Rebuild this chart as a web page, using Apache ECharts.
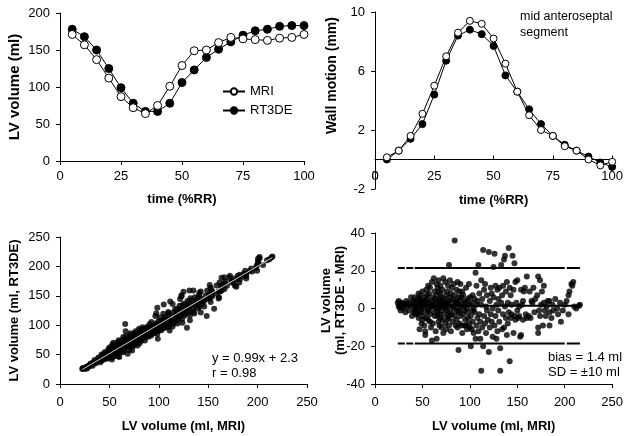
<!DOCTYPE html>
<html><head><meta charset="utf-8">
<script src="https://cdn.jsdelivr.net/npm/echarts@6/dist/echarts.min.js"></script>
<style>html,body{margin:0;padding:0;background:#fff}#c{width:626px;height:436px}</style>
</head><body><div id="c"></div>
<script>
// ---- data ----
const timeRR = [5,10,15,20,25,30,35,40,45,50,55,60,65,70,75,80,85,90,95,100];
const mriVolume   = [171,157,137,112,87,72,64,75,101,129,149,150,160,167,165,164,163,166,167,171];
const rt3deVolume = [178,168,150,125,99,78,67,67,78,106,123,140,151,161,170,176,178,182,183,183];
const mriWall   = [0.15,0.6,1.6,3.1,5.0,7.0,8.6,9.4,9.2,8.2,6.5,4.6,3.0,2.0,1.6,0.9,0.6,0.0,-0.4,-0.15];
const rt3deWall = [0.0,0.6,1.4,2.4,4.4,6.7,8.4,8.8,8.5,7.7,5.7,4.6,3.4,2.4,1.6,1.0,0.6,0.2,-0.2,-0.5];
// Bland-Altman points: [mean volume, RT3DE - MRI]
const baPairs = [
[24,3],[25,1],[25,4],[26,2],[27,-1],[28,3],[29,1],[30,0],[31,2],[32,-2],[33,4],[34,1],[35,3],[36,-1],[37,2],[38,6],[39,-4],[40,1],[40,4],[41,-2],[26,0.5],[30,2.5],
[42,6],[43,0],[44,3],[45,-3],[45,5],[46,8],[46,-5],[47,2],[47,-11],[48,7],[48,-1],[49,4],[49,-8],[50,1],[50,-6],[43,-3],[44,1],[46,1],[48,3],[41,3],[42,-1],[45,-2],[47,5],[49,-2],[50,9],
[51,3],[51,-4],[52,6],[52,-9],[53,-12],[53,-14],[54,2],[54,10],[55,-2],[55,5],[56,-6],[56,12],[57,0],[57,8],[58,-3],[58,11],[59,4],[59,-10],[60,-17],[60,2],[60,14],[51,0],[52,2],[53,4],[54,-5],[55,7],[56,-1],[57,3],[58,-7],[59,1],
[61,6],[61,-8],[62,16],[62,1],[63,-4],[63,9],[64,3],[64,-12],[65,-16],[65,7],[65,13],[66,-2],[66,4],[66,11],[67,-7],[67,0],[67,15],[68,5],[68,-9],[68,2],[69,-5],[69,8],[69,12],[70,-1],[70,3],[70,-10],[61,2],[62,-2],[63,5],[64,0],[66,-4],[67,9],[68,-3],[69,1],[70,6],
[71,10],[71,-6],[72,16],[72,-13],[72,2],[73,5],[73,-3],[74,14],[74,-8],[74,0],[75,7],[75,-11],[75,3],[76,-1],[76,9],[76,-6],[77,4],[77,12],[77,-4],[78,23],[78,1],[78,-9],[79,6],[79,-2],[79,15],[80,-12],[80,3],[80,8],[73,1],[76,2],[78,-5],[71,4],
[81,-3],[81,11],[82,5],[82,-7],[83,0],[83,13],[84,36],[84,-4],[84,7],[85,-9],[85,2],[85,4],[86,-1],[86,10],[86,-6],[87,3],[87,-10],[87,14],[88,-22],[88,6],[88,-2],[89,1],[89,-8],[89,9],[90,13],[90,-4],[90,4],[82,1],[86,3],[89,-1],
[91,-9],[91,6],[92,2],[92,-13],[93,-3],[93,7],[94,1],[94,-9],[95,4],[95,-6],[96,-9],[96,11],[97,0],[97,-11],[98,5],[98,-2],[99,13],[99,-8],[100,2],[100,-10],[92,9],[94,-1],[96,3],[98,-5],[100,6],
[101,-20],[101,-4],[102,3],[102,-11],[103,7],[103,-7],[104,0],[104,-13],[105,5],[105,-2],[106,19],[106,-16],[107,12],[107,-9],[107,2],[108,-5],[108,4],[109,23],[109,-12],[110,-3],[110,8],[103,-1],
[111,-16],[111,-7],[112,-33],[112,15],[112,2],[113,-10],[113,5],[114,-20],[114,31],[115,-4],[115,10],[116,13],[116,-8],[117,1],[117,-13],[118,-1],[118,7],[119,-6],[120,30],[120,-23],
[121,4],[121,-10],[122,11],[122,-3],[123,-7],[123,8],[124,0],[124,-15],[125,22],[125,6],[126,29],[126,-9],[127,12],[127,-4],[128,-16],[128,2],[129,10],[129,-12],[130,-1],[130,5],
[131,11],[131,-7],[132,-33],[132,-21],[133,23],[133,3],[134,-11],[134,7],[135,-3],[135,12],[136,26],[136,-10],[137,28],[137,1],[138,9],[138,-5],[139,-14],[140,3],[140,-8],[139,14],
[141,32],[141,-2],[142,-28],[142,11],[143,-5],[143,7],[144,-3],[144,2],[145,28],[146,-13],[146,10],[147,24],[147,-4],[148,14],[148,-6],[149,3],[150,15],[150,-1],
[151,-5],[152,1],[152,-4],[153,-15],[154,10],[154,-14],[155,2],[156,-6],[157,9],[158,11],[159,-3],[160,17],[160,-5],[156,4],
[162,-4],[163,9],[164,-5],[165,4],[166,3],[167,11],[168,-2],[169,5],[171,7],[172,17],[172,-10],[172,-13],[173,-1],[174,15],[174,-4],[175,2],[176,9],[177,-9],[178,12],[179,-1],[180,-4],[178,3],
[181,1],[182,4],[184,4],[184,-2],[184,-9],[186,-5],[187,2],[188,-1],[190,5],[192,0],[193,-3],[195,3],[196,-7],[198,-1],[200,2],[202,4],[204,-3],[204,7],[205,9],[207,13],[208,12],[209,14],[210,1],[212,0],[215,1.5],[216,2]
];
const biasValue = 1.4;
const sdValue = 10;
const regSlope = 0.99;
const regIntercept = 2.3;
const regR = 0.98;

// ---- derived series ----
const pairT = (xs, ys) => xs.map((x, i) => [x, ys[i]]);
const scatterLeft = baPairs.map(p => [p[0] - p[1] / 2, p[0] + p[1] / 2]);
const xsMean = baPairs.map(p => p[0]);
const baMin = Math.min(...xsMean), baMax = Math.max(...xsMean);
const loaHi = biasValue + 2 * sdValue, loaLo = biasValue - 2 * sdValue;
const xsLeft = scatterLeft.map(p => p[0]);
const regMin = Math.min(...xsLeft), regMax = Math.max(...xsLeft);

const FONT = "'Liberation Sans', Arial, sans-serif";
const black = '#000';

// top-right panel: the x axis sits at y = 0
const wallGridLeft = 375, wallGridTop = 12, wallGridH = 177, wallMin = -2, wallMax = 10;
const wallZeroOffset = -wallGridH * (0 - wallMin) / (wallMax - wallMin);

function xAxis(gi, max, interval, name, o) {
  o = o || {};
  return {
    type: 'value', gridIndex: gi, min: 0, max: max, interval: interval,
    offset: o.offset || 0,
    name: name, nameLocation: 'middle', nameGap: o.nameGap || 32, nameMoveOverlap: false,
    nameTextStyle: { fontFamily: FONT, fontWeight: 'bold', fontSize: 13, color: black },
    axisLine: { show: true, onZero: false, lineStyle: { color: black, width: 1 } },
    axisTick: { show: true, inside: !!o.inside, length: 4, lineStyle: { color: black, width: 1 } },
    axisLabel: { fontFamily: FONT, fontSize: 13, color: black, margin: o.margin || 9, showMinLabel: true, showMaxLabel: true, hideOverlap: false },
    splitLine: { show: false }
  };
}
function yAxis(gi, min, max, interval, name, o) {
  o = o || {};
  return {
    type: 'value', gridIndex: gi, min: min, max: max, interval: interval,
    name: name, nameLocation: 'middle', nameGap: o.nameGap || 36, nameRotate: 90, nameMoveOverlap: false,
    nameTextStyle: Object.assign({ fontFamily: FONT, fontWeight: 'bold', fontSize: o.nameSize || 13, color: black, lineHeight: o.lh || 15 }, o.nameExtra || {}),
    axisLine: { show: true, onZero: false, lineStyle: { color: black, width: 1 } },
    axisTick: { show: true, length: 4, lineStyle: { color: black, width: 1 } },
    axisLabel: { fontFamily: FONT, fontSize: 13, color: black, margin: 10, showMinLabel: true, showMaxLabel: true },
    splitLine: { show: false }
  };
}
const openSym = { color: '#fff', borderColor: black, borderWidth: 1 };
const fillSym = { color: black, borderColor: black, borderWidth: 1 };
function lineSeries(name, gi, data, filled) {
  return {
    name: name, type: 'line', xAxisIndex: gi, yAxisIndex: gi, data: data,
    symbol: 'circle', symbolSize: 8, showSymbol: true, animation: false,
    lineStyle: { color: black, width: 1 }, itemStyle: filled ? fillSym : openSym,
    z: filled ? 2 : 3
  };
}
const dashPattern = [7, 1.5, 7, 1.5, 150, 2, 17, 1.5, 4, 0];

const chart = echarts.init(document.getElementById('c'), null, { renderer: 'canvas' });
chart.setOption({
  backgroundColor: '#fff',
  animation: false,
  textStyle: { fontFamily: FONT },
  grid: [
    { left: 60, top: 13, width: 244, height: 148 },
    { left: wallGridLeft, top: wallGridTop, width: 242, height: wallGridH },
    { left: 60, top: 237, width: 247, height: 147 },
    { left: 375, top: 233, width: 244, height: 151 }
  ],
  xAxis: [
    xAxis(0, 100, 25, 'time (%RR)', { nameGap: 32, margin: 9 }),
    xAxis(1, 100, 25, 'time (%RR)', { nameGap: 34, inside: true, margin: 10, offset: wallZeroOffset }),
    xAxis(2, 250, 50, 'LV volume (ml, MRI)', { nameGap: 36, margin: 12 }),
    xAxis(3, 250, 50, 'LV volume (ml, MRI)', { nameGap: 36, margin: 12 })
  ],
  yAxis: [
    yAxis(0, 0, 200, 50, 'LV volume (ml)', { nameGap: 38, nameSize: 15 }),
    yAxis(1, wallMin, wallMax, 4, 'Wall motion (mm)', { nameGap: 35, nameSize: 14, nameExtra: { padding: [0, 0, 0, 50] } }),
    yAxis(2, 0, 250, 50, 'LV volume (ml, RT3DE)', { nameGap: 38, nameSize: 13 }),
    yAxis(3, -40, 40, 20, 'LV volume\n(ml, RT3DE - MRI)', { nameGap: 28, nameSize: 13, lh: 14, nameExtra: { padding: [0, 0, 0, 16] } })
  ],
  legend: {
    data: ['MRI', 'RT3DE'], orient: 'vertical', left: 217, top: 80,
    itemWidth: 22, itemHeight: 8, itemGap: 6,
    textStyle: { fontFamily: FONT, fontSize: 13, color: black }
  },
  series: [
    lineSeries('RT3DE', 0, pairT(timeRR, rt3deVolume), true),
    lineSeries('MRI', 0, pairT(timeRR, mriVolume), false),
    Object.assign(lineSeries('RT3DE', 1, pairT(timeRR, rt3deWall), true), { symbolSize: 7 }),
    Object.assign(lineSeries('MRI', 1, pairT(timeRR, mriWall), false), { symbolSize: 7 }),
    // the "0" tick label at the axis crossing of the top-right panel (the library leaves it out)
    {
      type: 'scatter', xAxisIndex: 1, yAxisIndex: 1, data: [[0, 0]], silent: true, clip: false, z: 20,
      symbol: 'circle', symbolSize: 2, itemStyle: { color: 'rgba(0,0,0,0)' },
      label: { show: true, position: 'bottom', distance: 9, formatter: '0', fontFamily: FONT, fontSize: 13, color: black }
    },
    {
      type: 'scatter', xAxisIndex: 2, yAxisIndex: 2, data: scatterLeft,
      symbol: 'circle', symbolSize: 6, itemStyle: { color: black }, silent: true
    },
    {
      type: 'line', xAxisIndex: 2, yAxisIndex: 2, showSymbol: false, silent: true, z: 5,
      data: [[regMin, regSlope * regMin + regIntercept], [regMax, regSlope * regMax + regIntercept]],
      lineStyle: { color: '#fff', width: 0.8 }
    },
    {
      type: 'scatter', xAxisIndex: 3, yAxisIndex: 3, data: baPairs,
      symbol: 'circle', symbolSize: 6, itemStyle: { color: black }, silent: true
    },
    {
      type: 'line', xAxisIndex: 3, yAxisIndex: 3, showSymbol: false, silent: true, z: 5,
      data: [[baMin, biasValue], [baMax, biasValue]], lineStyle: { color: black, width: 2 }
    },
    {
      type: 'line', xAxisIndex: 3, yAxisIndex: 3, showSymbol: false, silent: true, z: 5,
      data: [[baMin, loaHi], [baMax, loaHi]], lineStyle: { color: black, width: 2, type: dashPattern }
    },
    {
      type: 'line', xAxisIndex: 3, yAxisIndex: 3, showSymbol: false, silent: true, z: 5,
      data: [[baMin, loaLo], [baMax, loaLo]], lineStyle: { color: black, width: 2, type: dashPattern }
    }
  ],
  graphic: [
    { id: 'note', type: 'text', left: 520, top: 9, style: { text: 'mid anteroseptal\nsegment', font: '12.5px ' + FONT, fill: black, lineHeight: 16 } },
    { id: 'reg', type: 'text', left: 212, top: 351, style: { text: 'y = ' + regSlope + 'x + ' + regIntercept + '\nr = ' + regR, font: '13px ' + FONT, fill: black, lineHeight: 15 } },
    { id: 'bias', type: 'text', left: 548, top: 350, style: { text: 'bias = ' + biasValue + ' ml\nSD = \u00b1' + sdValue + ' ml', font: '13px ' + FONT, fill: black, lineHeight: 15 } }
  ]
});
</script></body></html>
